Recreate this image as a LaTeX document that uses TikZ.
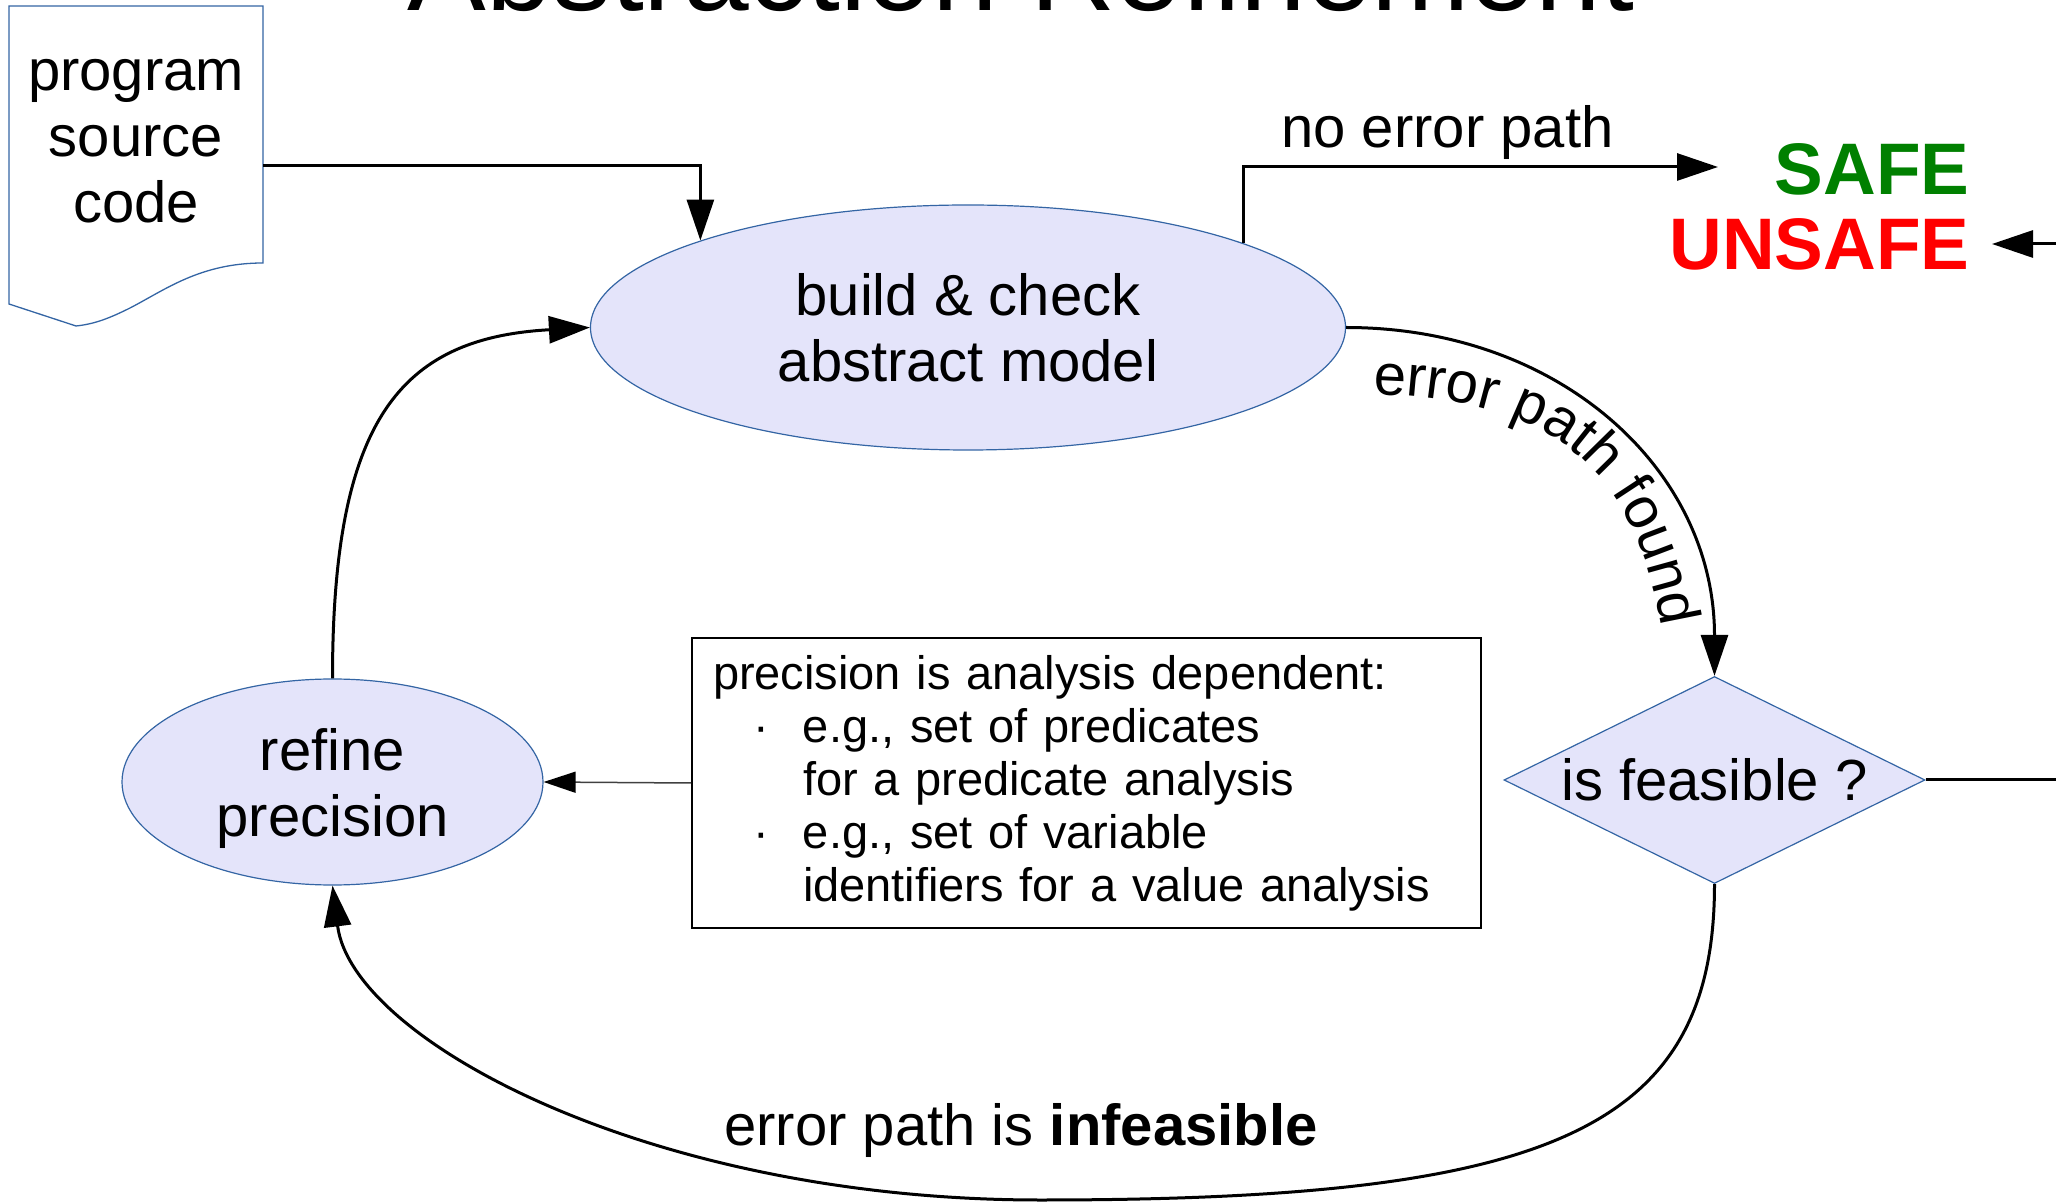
\documentclass[tikz,border=0pt]{standalone}
\usepackage{fontspec}
\setmainfont{Liberation Sans}
\usetikzlibrary{arrows.meta,shapes.geometric,decorations.text}

\definecolor{shapefill}{RGB}{228,228,250}
\definecolor{shapeline}{RGB}{52,101,164}
\definecolor{safegreen}{RGB}{0,128,0}
\definecolor{unsafered}{RGB}{255,0,0}

\newcommand\bigtxt{\fontsize{29pt}{33pt}\selectfont}
\newcommand\boxtxt{\fontsize{23.5pt}{26.5pt}\selectfont}
\newcommand\verdicttxt{\fontsize{36.5pt}{40pt}\selectfont\bfseries}
\newcommand\titletxt{\fontsize{59pt}{66pt}\selectfont}

\tikzset{
  bigtext/.style={font=\bigtxt, inner sep=0pt},
  process/.style={ellipse, draw=shapeline, line width=0.6pt, fill=shapefill,
    inner sep=0pt, align=center, font=\bigtxt},
  decision/.style={diamond, draw=shapeline, line width=0.6pt, fill=shapefill,
    inner sep=0pt, font=\bigtxt, minimum width=210.5pt, minimum height=103.5pt,
    aspect=2.03},
  docline/.style={draw=shapeline, line width=0.65pt, fill=white},
  frame/.style={rectangle, inner sep=0pt, minimum width=127pt, minimum height=160pt},
  notebox/.style={draw, line width=1pt, font=\boxtxt, align=left,
    text width=373.5pt, inner xsep=10.5pt, minimum width=394.5pt,
    minimum height=145pt},
  verdict/.style={font=\verdicttxt, inner sep=0pt},
  conn/.style={line width=1.5pt, -{Triangle[length=20.5pt,width=13.5pt]}},
  thinconn/.style={line width=0.75pt, draw=black!75,
    -{Triangle[length=16pt,width=10.5pt,color=black]}},
}

\begin{document}
\begin{tikzpicture}[x=0.5pt,y=-0.5pt]
\useasboundingbox (0,0) rectangle (2056,1202);
\clip (0,0) rectangle (2056,1202);

% heading, cut by the top edge
\node[font=\titletxt, inner sep=0pt, anchor=base] (title) at (1021,10.5) {Abstraction Refinement};

% program source code (document shape)
\node[frame] (src) at (136,166) {};
\draw[docline] (9,6) -- (263,6) -- (263,263)
  .. controls (200,263) and (165,290) .. (130,308)
  .. controls (110,318) and (95,324) .. (76,326) -- (9,304) -- cycle;
\node[bigtext, align=center] (srctext) at (136,141) {program\\source\\code};

% process steps
\node[process, minimum width=377.5pt, minimum height=122.5pt] (model) at (968,327.5)
  {build \& check\\abstract model};
\node[process, minimum width=210.5pt, minimum height=103pt, text depth=0pt] (refine)
  at (332.5,782) {refine\\precision};
\node[decision] (feas) at (1714.5,780) {is feasible ?};

% explanation of precision
\node[notebox, anchor=north west] (note) at (691,637)
  {precision is analysis dependent:\\
   \hspace*{20pt}\makebox[25pt][l]{·}e.g., set of predicates\\
   \hspace*{45pt}for a predicate analysis\\
   \hspace*{20pt}\makebox[25pt][l]{·}e.g., set of variable\\
   \hspace*{45pt}identifiers for a value analysis};

% verdicts
\node[verdict, text=safegreen, anchor=base east] (safe) at (1970,195) {SAFE};
\node[verdict, text=unsafered, anchor=base east] (unsafe) at (1970,270) {UNSAFE};
\coordinate (safeIn) at (1718,167);
\coordinate (unsafeIn) at (1992,244);

% edge labels
\node[bigtext, anchor=base west] (noerr) at (1281,148) {no error path};
\node[bigtext, anchor=base west] (infeas) at (724,1145) {error path is \textbf{infeasible}};

% connectors
\draw[conn] (src.east) -| (model.162.1);
\draw[conn] (model.17.9) |- (safeIn);
\draw[conn] (model.east) .. controls (1560,327.5) and (1714.5,470) .. (feas.north);
% curved label, set on its own baseline inside the bend
\path[decorate, decoration={text along path,
    text={|\bigtxt|error path found}, text align={left indent=10.5pt}}]
  (1352,394) .. controls (1560,394) and (1650,470) .. (1668,680);
\draw[conn] (feas.south) .. controls (1714.5,1131) and (1550,1200) .. (1040,1200)
  .. controls (650,1200) and (352,1040) .. (refine.south);
\draw[conn] (refine.north) .. controls (332.5,420) and (400,338) .. (model.west);
\draw[thinconn] (note.west) -- (refine.east);
\draw[conn] (feas.east) -- ++(200,0) |- (unsafeIn);
\end{tikzpicture}
\end{document}
